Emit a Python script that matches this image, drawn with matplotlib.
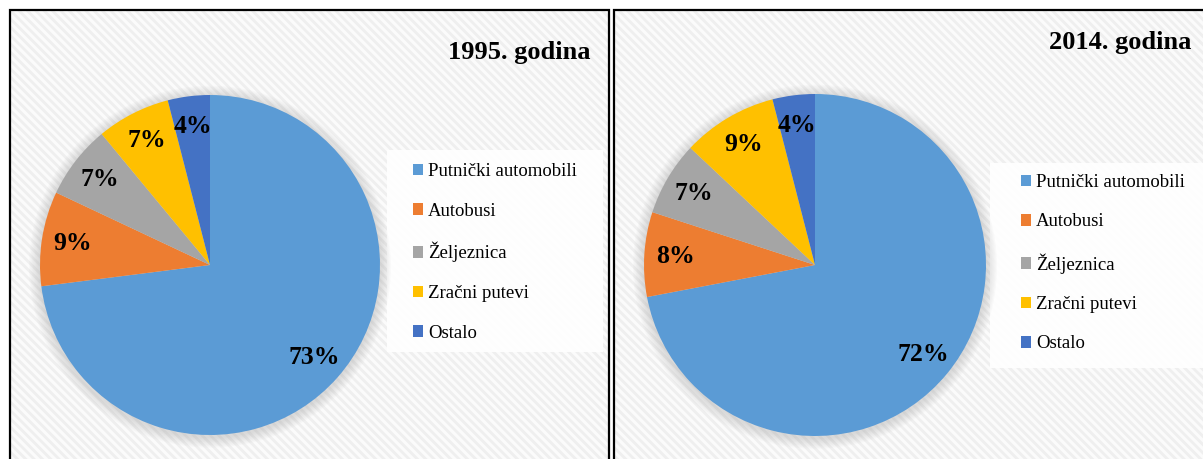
import matplotlib.pyplot as plt
from matplotlib.patches import Rectangle, Circle

categories = ["Putnički automobili", "Autobusi", "Željeznica", "Zračni putevi", "Ostalo"]
shares_1995 = [73, 9, 7, 7, 4]
shares_2014 = [72, 8, 7, 9, 4]
titles = ["1995. godina", "2014. godina"]
colors = ["#5B9BD5", "#ED7D31", "#A5A5A5", "#FFC000", "#4472C4"]

W, H = 1203, 459
plt.rcParams["font.family"] = ["Liberation Serif", "DejaVu Serif"]
plt.rcParams["hatch.linewidth"] = 2.0

fig = plt.figure(figsize=(W / 100, H / 100), dpi=100)
fig.patch.set_facecolor("white")


def fx(px):
    return px / W


def fy(py):
    # pixel from top -> figure fraction from bottom
    return 1 - py / H


# panel geometry in pixels
panels = [
    dict(left=10, right=609, cx=210, cy=265, r=170,
         box=(387, 150, 603, 352), leg_x=413, leg_y=163,
         tx=590, ty=53, values=shares_1995, title=titles[0]),
    dict(left=614, right=1215, cx=815, cy=265, r=171,
         box=(990, 163, 1210, 368), leg_x=1021, leg_y=174,
         tx=1191, ty=42, values=shares_2014, title=titles[1]),
]

for p in panels:
    # hatched background
    bg = Rectangle((fx(p["left"]), 0), fx(p["right"] - p["left"]), fy(10),
                   transform=fig.transFigure, facecolor="#fbfbfb",
                   edgecolor="#efefef", hatch="\\\\\\\\", linewidth=0, zorder=0)
    fig.patches.append(bg)
    border = Rectangle((fx(p["left"]), -0.01), fx(p["right"] - p["left"]), fy(10) + 0.01,
                       transform=fig.transFigure, facecolor="none",
                       edgecolor="black", linewidth=1.6, zorder=1)
    fig.patches.append(border)

    # legend box
    x0, y0, x1, y1 = p["box"]
    lb = Rectangle((fx(x0), fy(y1)), fx(x1 - x0), fy(y0) - fy(y1),
                   transform=fig.transFigure, facecolor="white",
                   edgecolor="none", alpha=0.9, zorder=2)
    fig.patches.append(lb)

    r = p["r"]
    ax = fig.add_axes([fx(p["cx"] - r), fy(p["cy"] + r), fx(2 * r), (2 * r) / H])
    ax.set_zorder(3)
    # soft shadow
    for k in range(8):
        ax.add_patch(Circle((0, -0.01), 1.0 + 0.008 * (k + 1), color="#999999",
                            alpha=0.045, linewidth=0, clip_on=False, zorder=0))
    wedges, _, autotexts = ax.pie(
        p["values"], colors=colors, startangle=90, counterclock=False,
        autopct="%.0f%%", pctdistance=0.82,
        wedgeprops=dict(linewidth=0),
        textprops=dict(fontsize=18.5, fontweight="bold", color="black"),
    )
    ax.set_xlim(-1, 1)
    ax.set_ylim(-1, 1)
    ax.set_aspect("equal")

    leg = fig.legend(wedges, categories, loc="upper left",
                     bbox_to_anchor=(fx(p["leg_x"]), fy(p["leg_y"])),
                     frameon=False, fontsize=13.5, handlelength=0.55,
                     handleheight=0.55, handletextpad=0.25, labelspacing=1.2,
                     borderpad=0, borderaxespad=0)
    leg.set_zorder(4)

    fig.text(fx(p["tx"]), fy(p["ty"]), p["title"], ha="right", va="center",
             fontsize=19, fontweight="bold", zorder=5)

fig.savefig("out.png", dpi=100, facecolor="white")
